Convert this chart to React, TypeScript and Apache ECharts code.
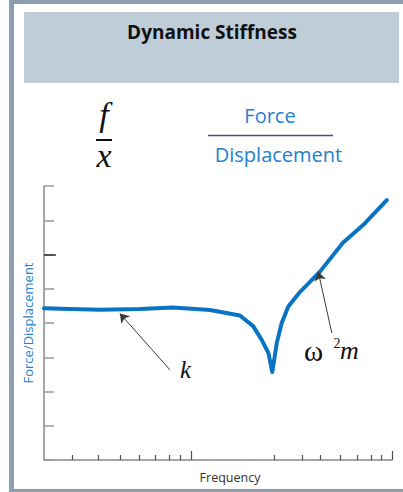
import { useEffect, useRef } from "react";
import * as echarts from "echarts";

// Frequency response of a single-DOF system: stiffness plateau, resonance dip, mass line
const frequency = [0, 7.5, 16.1, 27.6, 37.1, 47.7, 56.3, 60.1, 62.6, 64.5, 65.6, 66.9, 68.3, 70.2, 73.6, 79.3, 85.9, 91.7, 98.5];
const stiffness = [4.43, 4.41, 4.39, 4.41, 4.45, 4.38, 4.22, 3.91, 3.5, 3.12, 2.57, 3.42, 4.0, 4.48, 4.91, 5.5, 6.34, 6.86, 7.59];

// Log-style tick marks on the frequency axis
const minorFreqTicks = [8.25, 15.7, 21.8, 27.4, 32, 35.9, 39.2, 66.1, 74.1, 79.5, 85.1, 89.9, 93.9, 97.0];
const majorFreqTicks = [42.2, 100];
const highlightedStiffnessTick = [6];

// Annotation arrows: [tail, head]
const kArrow = [[36.2, 2.63], [21.8, 4.28]];
const massArrow = [[82.7, 3.71], [78.8, 5.5]];

const BLUE_TEXT = "#2381CF";
const CURVE = "#0A74C4";
const FRAME = "#8C9EB0";
const SERIF = '"Liberation Serif", "DejaVu Serif", serif';
const SANS = '"Open Sans", "Noto Sans", sans-serif';

export default function App() {
  const ref = useRef<HTMLDivElement>(null);

  useEffect(() => {
    const chart = echarts.init(ref.current!, null, { renderer: "svg" });
    const arrowLine = (a: number[][]) => [
      { coord: a[0], symbol: "none" },
      { coord: a[1], symbol: "arrow" },
    ];
    chart.setOption({
      animation: false,
      backgroundColor: "transparent",
      grid: { left: 44, right: 11, top: 186, bottom: 32, containLabel: false },
      xAxis: [
        {
          type: "value",
          min: 0,
          max: 100,
          name: "Frequency",
          nameLocation: "middle",
          nameGap: 11,
          nameTextStyle: { color: "#333333", fontSize: 12.5, fontFamily: SANS, padding: [0, 0, 0, 24] },
          axisLine: { show: true, onZero: false, lineStyle: { color: "#8A8A8A", width: 1.5 } },
          axisTick: { show: true, inside: true, length: 5, customValues: minorFreqTicks, lineStyle: { color: "#505050", width: 1.2 } },
          axisLabel: { show: false },
          splitLine: { show: false },
        },
        {
          type: "value",
          min: 0,
          max: 100,
          position: "bottom",
          offset: 0,
          axisLine: { show: false, onZero: false },
          axisTick: { show: true, inside: true, length: 9, customValues: majorFreqTicks, lineStyle: { color: "#505050", width: 1.2 } },
          axisLabel: { show: false },
          splitLine: { show: false },
        },
      ],
      yAxis: [
        {
          type: "value",
          min: 0,
          max: 8,
          interval: 1,
          name: "Force/Displacement",
          nameLocation: "middle",
          nameGap: 10,
          nameTextStyle: { color: BLUE_TEXT, fontSize: 13, fontFamily: SANS },
          axisLine: { show: true, lineStyle: { color: "#8A8A8A", width: 1.5 } },
          axisTick: { show: true, inside: true, length: 10, lineStyle: { color: "#9A9A9A", width: 1.5 } },
          axisLabel: { show: false },
          splitLine: { show: false },
        },
        {
          type: "value",
          min: 0,
          max: 8,
          interval: 1,
          position: "left",
          offset: 0,
          axisLine: { show: false },
          axisTick: { show: true, inside: true, length: 12, customValues: highlightedStiffnessTick, lineStyle: { color: "#333333", width: 1.5 } },
          axisLabel: { show: false },
          splitLine: { show: false },
        },
      ],
      series: [
        {
          type: "line",
          xAxisIndex: 0,
          yAxisIndex: 0,
          data: frequency.map((f, i) => [f, stiffness[i]]),
          showSymbol: false,
          smooth: false,
          lineStyle: { color: CURVE, width: 4, join: "round", cap: "round" },
          silent: true,
          markLine: {
            silent: true,
            symbolSize: 9,
            label: { show: false },
            lineStyle: { color: "#3A3A3A", width: 1, type: "solid" },
            emphasis: { disabled: true },
            data: [arrowLine(kArrow), arrowLine(massArrow)],
          },
        },
      ],
      graphic: [
        {
          type: "rect",
          silent: true,
          z: -10,
          shape: { x: 24, y: 12, width: 375, height: 71 },
          style: { fill: "#BFCDD9" },
        },
        {
          type: "text",
          silent: true,
          style: { text: "Dynamic Stiffness", x: 212, y: 32, fill: "#111111", font: `bold 19px ${SANS}`, textAlign: "center", textVerticalAlign: "middle" },
        },
        // f / x
        {
          type: "text",
          silent: true,
          style: { text: "f", x: 104, y: 114.5, fill: "#111111", font: `italic 34px ${SERIF}`, textAlign: "center", textVerticalAlign: "middle" },
        },
        {
          type: "line",
          silent: true,
          shape: { x1: 96, y1: 140, x2: 112, y2: 140 },
          style: { stroke: "#111111", lineWidth: 2 },
        },
        {
          type: "text",
          silent: true,
          style: { text: "x", x: 104, y: 155.5, fill: "#111111", font: `italic 34px ${SERIF}`, textAlign: "center", textVerticalAlign: "middle" },
        },
        // Force / Displacement
        {
          type: "text",
          silent: true,
          style: { text: "Force", x: 270, y: 115.5, fill: BLUE_TEXT, font: `20px ${SANS}`, textAlign: "center", textVerticalAlign: "middle" },
        },
        {
          type: "line",
          silent: true,
          shape: { x1: 208, y1: 135.5, x2: 333, y2: 135.5 },
          style: { stroke: "#4A4A8C", lineWidth: 1.5 },
        },
        {
          type: "text",
          silent: true,
          style: { text: "Displacement", x: 278.5, y: 154.5, fill: BLUE_TEXT, font: `20px ${SANS}`, textAlign: "center", textVerticalAlign: "middle" },
        },
        // curve annotations
        {
          type: "text",
          silent: true,
          style: { text: "k", x: 185.5, y: 369.5, fill: "#111111", font: `italic 25px ${SERIF}`, textAlign: "center", textVerticalAlign: "middle" },
        },
        {
          type: "text",
          silent: true,
          style: { text: "ω", x: 304, y: 351, fill: "#111111", font: `29px ${SERIF}`, textAlign: "left", textVerticalAlign: "middle" },
        },
        {
          type: "text",
          silent: true,
          style: { text: "2", x: 333.5, y: 343.5, fill: "#111111", font: `14px ${SERIF}`, textAlign: "left", textVerticalAlign: "middle" },
        },
        {
          type: "text",
          silent: true,
          style: { text: "m", x: 340, y: 350.5, fill: "#111111", font: `italic 26px ${SERIF}`, textAlign: "left", textVerticalAlign: "middle" },
        },
      ],
    });
    return () => chart.dispose();
  }, []);

  // Page frame: thick blue-grey rule on the top, left and bottom edges
  return (
    <div
      style={{
        position: "absolute",
        left: 0,
        top: 0,
        width: 403,
        height: 492,
        overflow: "hidden",
        background: "#ffffff",
      }}
    >
      <div
        style={{
          position: "absolute",
          left: 9,
          top: 0,
          width: 420,
          height: 492,
          borderTop: `4px solid ${FRAME}`,
          borderLeft: `5px solid ${FRAME}`,
          borderBottom: `3px solid ${FRAME}`,
          boxSizing: "border-box",
        }}
      />
      <div ref={ref} style={{ position: "absolute", left: 0, top: 0, width: 403, height: 492 }} />
    </div>
  );
}
